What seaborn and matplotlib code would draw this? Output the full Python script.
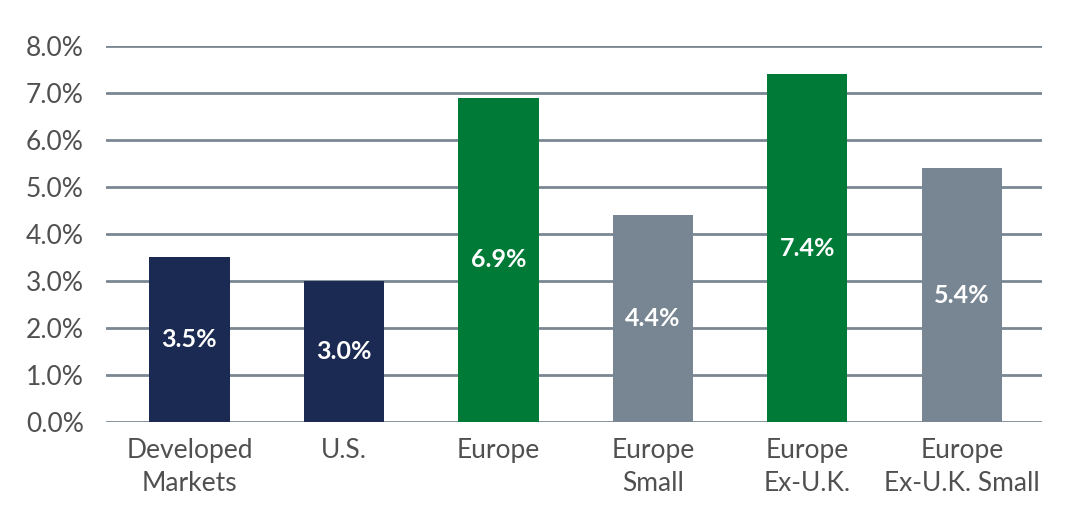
import matplotlib
matplotlib.use("Agg")
import matplotlib.pyplot as plt
import pandas as pd
import seaborn as sns

CATEGORIES = [
    "Developed\nMarkets",
    "U.S.",
    "Europe",
    "Europe\nSmall",
    "Europe\nEx-U.K.",
    "Europe\nEx-U.K. Small",
]
VALUES = [3.5, 3.0, 6.9, 4.4, 7.4, 5.4]
Y_TICKS = [0, 1, 2, 3, 4, 5, 6, 7, 8]

NAVY = "#1b2a52"
GREEN = "#007a37"
SLATE = "#778692"
BAR_COLORS = [NAVY, NAVY, GREEN, SLATE, GREEN, SLATE]
GRID_COLOR = "#7a8793"
TEXT_COLOR = "#505050"


def main() -> None:
    sns.set_theme(style="white")
    plt.rcParams["font.family"] = ["Lato", "DejaVu Sans"]

    df = pd.DataFrame({"category": CATEGORIES, "value": VALUES})

    fig = plt.figure(figsize=(10.76, 5.24), dpi=100)
    ax = fig.add_axes([0.0985, 0.195, 0.870, 0.717])

    for y in Y_TICKS:
        ax.axhline(y, color=GRID_COLOR, linewidth=2, zorder=0)

    sns.barplot(
        data=df,
        x="category",
        y="value",
        hue="category",
        order=CATEGORIES,
        hue_order=CATEGORIES,
        palette=dict(zip(CATEGORIES, BAR_COLORS)),
        width=0.52,
        legend=False,
        saturation=1,
        linewidth=0,
        ax=ax,
        zorder=2,
    )

    for i, v in enumerate(VALUES):
        ax.text(i, v / 2, f"{v:.1f}%", ha="center", va="center",
                color="white", fontsize=18, fontweight="bold", zorder=3)

    ax.set_ylim(0, 8)
    ax.set_xlim(-0.54, 5.52)
    ax.set_yticks(Y_TICKS, [f"{t:.1f}%" for t in Y_TICKS])
    ax.set_xlabel("")
    ax.set_ylabel("")
    for spine in ax.spines.values():
        spine.set_visible(False)
    ax.tick_params(axis="y", length=0, pad=16, labelsize=19, labelcolor=TEXT_COLOR)
    ax.tick_params(axis="x", length=0, pad=12, labelsize=19, labelcolor=TEXT_COLOR)
    for lbl in ax.get_xticklabels():
        lbl.set_linespacing(1.4)

    fig.savefig("out.png", dpi=100)
    plt.close(fig)


if __name__ == "__main__":
    main()
